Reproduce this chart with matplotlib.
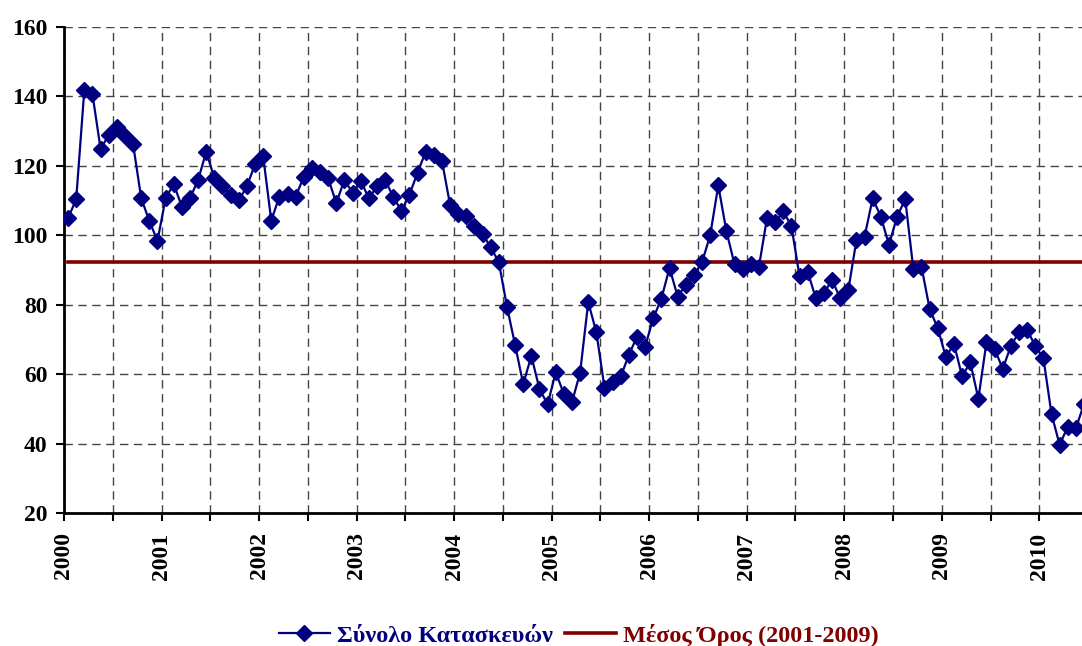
import matplotlib
import matplotlib.pyplot as plt
import numpy as np

matplotlib.use('Agg')
plt.rcParams['font.family'] = ['Liberation Serif', 'DejaVu Serif']
plt.rcParams['font.weight'] = 'bold'

# monthly index, Jan 2000 - Jun 2010
years = ['2000', '2001', '2002', '2003', '2004', '2005',
         '2006', '2007', '2008', '2009', '2010']
total_2000 = [104.9, 110.3, 141.8, 140.6, 124.8, 128.8, 131.0, 128.5, 126.2, 110.6, 104.1, 98.3]
total_2001 = [110.6, 114.7, 108.2, 110.6, 115.9, 124.0, 116.4, 114.0, 111.6, 110.0, 114.0, 120.4]
total_2002 = [122.8, 104.2, 111.1, 111.8, 111.1, 116.8, 119.4, 118.3, 116.4, 109.2, 115.9, 112.2]
total_2003 = [115.7, 110.6, 114.0, 115.9, 111.1, 107.0, 111.6, 118.0, 124.0, 123.1, 121.4, 108.7]
total_2004 = [106.0, 105.5, 102.6, 100.3, 96.5, 92.2, 79.4, 68.4, 57.1, 65.2, 55.7, 51.3]
total_2005 = [60.5, 54.3, 51.9, 60.4, 80.7, 72.0, 56.1, 57.8, 59.3, 65.5, 70.8, 67.9]
total_2006 = [76.1, 81.7, 90.6, 82.3, 85.7, 88.5, 92.2, 99.9, 114.3, 101.1, 91.6, 90.3]
total_2007 = [91.7, 90.9, 105.0, 103.7, 106.8, 102.6, 88.1, 89.5, 81.8, 83.3, 87.1, 81.8]
total_2008 = [84.2, 98.6, 99.6, 110.6, 105.3, 97.2, 105.3, 110.4, 90.2, 90.9, 78.8, 73.2]
total_2009 = [64.9, 68.7, 59.3, 63.4, 52.9, 69.2, 67.2, 61.5, 68.1, 72.1, 72.7, 68.1]
total_2010 = [64.6, 48.5, 39.6, 44.9, 44.4, 51.4]
mean_2001_2009 = 92.3

total = (total_2000 + total_2001 + total_2002 + total_2003 + total_2004 + total_2005
         + total_2006 + total_2007 + total_2008 + total_2009 + total_2010)
x = np.arange(len(total)) + 0.5

fig = plt.figure(figsize=(10.82, 6.46), dpi=100)
ax = fig.add_axes([64 / 1082, 1 - 513 / 646, 1 - 64 / 1082, (513 - 26.7) / 646])

ax.plot(x, [mean_2001_2009] * len(total), color='#800000', lw=2.6,
        label='Μέσος Όρος (2001-2009)', zorder=2)
ax.plot(x, total, color='#000080', lw=1.6, marker='D', markersize=8.3,
        label='Σύνολο Κατασκευών', zorder=3)

ax.set_xlim(0, 125.25)
ax.set_ylim(20, 160)
ax.set_yticks(np.arange(20, 161, 20))
ax.set_xticks(np.arange(0, 121, 6))
ax.set_xticklabels([years[i // 12] if i % 12 == 0 else '' for i in range(0, 121, 6)],
                   rotation=90)
ax.tick_params(axis='both', labelsize=17, direction='out', length=6, width=1.5, colors='black')
ax.tick_params(axis='x', pad=8)
ax.tick_params(axis='y', pad=6)
for lbl in ax.get_xticklabels() + ax.get_yticklabels():
    lbl.set_fontweight('bold')

ax.grid(True, color='#444444', lw=1, linestyle=(0, (6, 4)))
ax.set_axisbelow(True)
ax.spines['top'].set_visible(False)
ax.spines['right'].set_visible(False)
ax.spines['left'].set_linewidth(2)
ax.spines['bottom'].set_linewidth(2)

handles, labels = ax.get_legend_handles_labels()
leg = fig.legend(handles[::-1], labels[::-1], loc='center', bbox_to_anchor=(0.535, 0.017),
                 ncol=2, frameon=False, fontsize=17.5, handlelength=2.1, columnspacing=0.5,
                 handletextpad=0.3)
for txt, col in zip(leg.get_texts(), ['#000080', '#800000']):
    txt.set_color(col)
    txt.set_fontweight('bold')

fig.savefig('out.png', dpi=100)
